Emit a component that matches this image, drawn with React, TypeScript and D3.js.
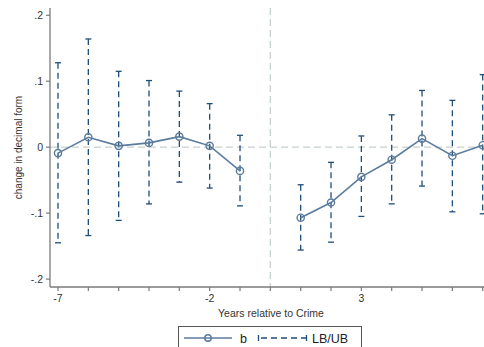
import React from "react";
import * as d3 from "d3";

// event-study coefficients and their bounds
const years = [-7, -6, -5, -4, -3, -2, -1, 1, 2, 3, 4, 5, 6, 7];
const b = [-0.009, 0.015, 0.002, 0.0065, 0.016, 0.002, -0.036, -0.107, -0.084, -0.045, -0.019, 0.013, -0.013, 0.003];
const ub = [0.128, 0.164, 0.115, 0.101, 0.085, 0.066, 0.018, -0.057, -0.023, 0.017, 0.049, 0.086, 0.071, 0.11];
const lb = [-0.145, -0.134, -0.111, -0.086, -0.053, -0.062, -0.089, -0.156, -0.144, -0.105, -0.086, -0.059, -0.098, -0.101];
const yTicks = [0.2, 0.1, 0, -0.1, -0.2];
const yTickLabels = [".2", ".1", "0", "-.1", "-.2"];
const xTickValues = d3.range(-7, 8);
const xLabelValues = [-7, -2, 3];

const W = 484;
const H = 347;
const left = 50;
const top = 8;
const bottom = 287;

const lineColor = "#5b7b9c";
const barColor = "#1f4e79";
const refColor = "#c7d2cb";
const axisColor = "#7a7a7a";
const font = "Liberation Sans, Arial, sans-serif";

const App = () => {
  const x = d3.scaleLinear().domain([-7, 7]).range([58, 482.7]);
  const y = d3.scaleLinear().domain([-0.212, 0.211]).range([bottom, top]);

  const points = years.map((yr, i) => ({ yr, b: b[i], lb: lb[i], ub: ub[i] }));
  const pre = points.filter((d) => d.yr < 0);
  const post = points.filter((d) => d.yr > 0);

  const line = d3
    .line<{ yr: number; b: number }>()
    .x((d) => x(d.yr))
    .y((d) => y(d.b));

  const cap = 3;

  return (
    <svg
      width={W}
      height={H}
      style={{ position: "absolute", left: 0, top: 0, background: "#fff" }}
      fontFamily={font}
    >
      {/* reference lines */}
      <line x1={left} x2={W} y1={y(0)} y2={y(0)} stroke={refColor} strokeWidth={1.3} strokeDasharray="7,4" />
      <line x1={x(0)} x2={x(0)} y1={top} y2={bottom} stroke={refColor} strokeWidth={1.3} strokeDasharray="7,4" />

      {/* error bars */}
      {points.map((d, i) => (
        <g key={"eb" + i} stroke={barColor} strokeWidth={1.3}>
          <line x1={x(d.yr)} x2={x(d.yr)} y1={y(d.ub)} y2={y(d.lb)} strokeDasharray="6,4" />
          <line x1={x(d.yr) - cap} x2={x(d.yr) + cap} y1={y(d.ub)} y2={y(d.ub)} />
          <line x1={x(d.yr) - cap} x2={x(d.yr) + cap} y1={y(d.lb)} y2={y(d.lb)} />
        </g>
      ))}

      {/* coefficient line */}
      <path d={line(pre) || ""} fill="none" stroke={lineColor} strokeWidth={1.6} />
      <path d={line(post) || ""} fill="none" stroke={lineColor} strokeWidth={1.6} />
      {points.map((d, i) => (
        <circle key={"pt" + i} cx={x(d.yr)} cy={y(d.b)} r={3.6} fill="none" stroke={lineColor} strokeWidth={1.4} />
      ))}

      {/* y axis */}
      <line x1={left} x2={left} y1={top} y2={bottom} stroke={axisColor} strokeWidth={1.3} />
      {yTicks.map((t, i) => (
        <g key={"yt" + i}>
          <line x1={left - 4} x2={left} y1={y(t)} y2={y(t)} stroke={axisColor} strokeWidth={1.2} />
          <text x={left - 7} y={y(t)} dy="0.35em" textAnchor="end" fontSize={10.5} fill="#333">
            {yTickLabels[i]}
          </text>
        </g>
      ))}
      <text
        transform={`translate(22,${(top + bottom) / 2}) rotate(-90)`}
        textAnchor="middle"
        fontSize={10}
        fill="#333"
      >
        change in decimal form
      </text>

      {/* x axis */}
      <line x1={left} x2={W} y1={bottom} y2={bottom} stroke={axisColor} strokeWidth={1.3} />
      {xTickValues.map((t) => (
        <line key={"xt" + t} x1={x(t)} x2={x(t)} y1={bottom} y2={bottom + 4} stroke={axisColor} strokeWidth={1.2} />
      ))}
      {xLabelValues.map((t) => (
        <text key={"xl" + t} x={x(t)} y={bottom + 15} textAnchor="middle" fontSize={10.5} fill="#333">
          {t}
        </text>
      ))}
      <text x={271} y={bottom + 30} textAnchor="middle" fontSize={10.5} fill="#333">
        Years relative to Crime
      </text>

      {/* legend */}
      <rect x={178.5} y={326.5} width={183} height={30} fill="#fff" stroke="#555" strokeWidth={1} />
      <line x1={184} x2={232} y1={338} y2={338} stroke={lineColor} strokeWidth={1.6} />
      <circle cx={208} cy={338} r={3.2} fill="none" stroke={lineColor} strokeWidth={1.4} />
      <text x={240} y={342.5} fontSize={12.5} fill="#222">b</text>
      <g stroke={barColor} strokeWidth={1.3}>
        <line x1={259} x2={306} y1={338} y2={338} strokeDasharray="6,4" strokeDashoffset={-2} />
        <line x1={258.5} x2={258.5} y1={335} y2={341} />
        <line x1={306.5} x2={306.5} y1={335} y2={341} />
      </g>
      <text x={312} y={342.5} fontSize={12.5} fill="#222">LB/UB</text>
    </svg>
  );
};

export default App;
